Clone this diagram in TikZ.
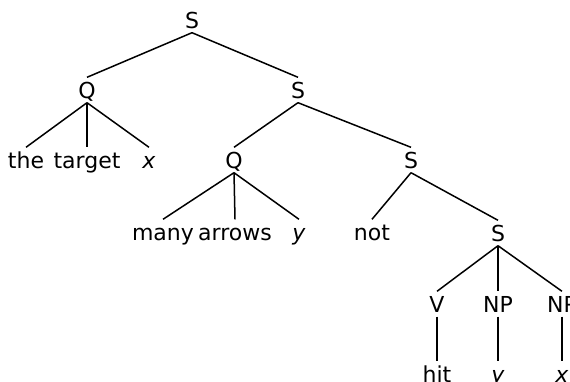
\documentclass[tikz,border=0pt]{standalone}
\usepackage{fontspec}
\setmainfont{DejaVu Sans}
\begin{document}
\begin{tikzpicture}[x=1pt,y=-1pt,
  lbl/.style={anchor=base, inner sep=4.5pt, text height=16pt, text depth=0pt, font=\fontsize{22}{26}\selectfont},
  edge/.style={line width=1.5pt}]
\clip (0,0) rectangle (570,381);
% nodes (placed at their baselines)
\node[lbl] (s1) at (192,28) {S};
\node[lbl] (q1) at (87,98) {Q};
\node[lbl] (s2) at (298,98) {S};
\node[lbl] (the) at (26,168) {the};
\node[lbl] (target) at (87,168) {target};
\node[lbl] (x1) at (149,168) {\textit{x}};
\node[lbl] (q2) at (234,168) {Q};
\node[lbl] (s3) at (411,168) {S};
\node[lbl] (many) at (163,240) {many};
\node[lbl] (arrows) at (235,240) {arrows};
\node[lbl] (y1) at (299,240) {\textit{y}};
\node[lbl] (not) at (372,240) {not};
\node[lbl] (s4) at (498,241) {S};
\node[lbl] (v) at (437,312) {V};
\node[lbl] (np1) at (498,312) {NP};
\node[lbl] (np2) at (562,312) {NP};
\node[lbl] (hit) at (437,382) {hit};
\node[lbl] (y2) at (498,382) {\textit{y}};
\node[lbl] (x2) at (562,382) {\textit{x}};
% edges
\draw[edge] (s1.south) -- (q1.north);
\draw[edge] (s1.south) -- (s2.north);
\draw[edge] (q1.south) -- (the.north);
\draw[edge] (q1.south) -- (target.north);
\draw[edge] (q1.south) -- (x1.north);
\draw[edge] (s2.south) -- (q2.north);
\draw[edge] (s2.south) -- (s3.north);
\draw[edge] (q2.south) -- (many.north);
\draw[edge] (q2.south) -- (arrows.north);
\draw[edge] (q2.south) -- (y1.north);
\draw[edge] (s3.south) -- (not.north);
\draw[edge] (s3.south) -- (s4.north);
\draw[edge] (s4.south) -- (v.north);
\draw[edge] (s4.south) -- (np1.north);
\draw[edge] (s4.south) -- (np2.north);
\draw[edge] (v.south) -- (hit.north);
\draw[edge] (np1.south) -- (y2.north);
\draw[edge] (np2.south) -- (x2.north);
\end{tikzpicture}
\end{document}
